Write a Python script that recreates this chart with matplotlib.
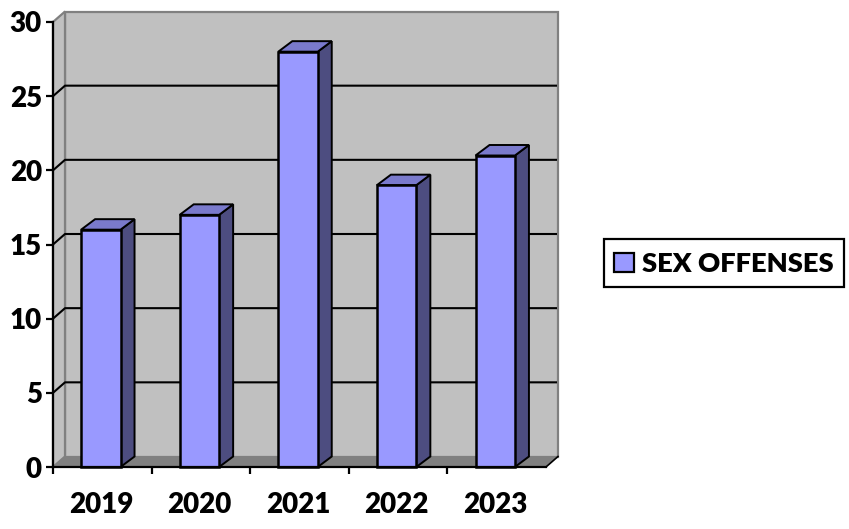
# plot.py - 3d looking column chart of sex offenses per year
import matplotlib
matplotlib.use('Agg')
import matplotlib.pyplot as plt
from matplotlib.patches import Patch, Polygon, Rectangle

years = ['2019', '2020', '2021', '2022', '2023']
offenses = [16, 17, 28, 19, 21]
y_ticks = [0, 5, 10, 15, 20, 25, 30]
series_name = 'SEX OFFENSES'

plt.rcParams['font.family'] = ['Lato', 'DejaVu Sans']
plt.rcParams['font.weight'] = 'heavy'

W, H = 849, 529
fig = plt.figure(figsize=(W / 100, H / 100), dpi=100)
# front plane of the chart, in pixels: x 53-546, y 22-467
ax = fig.add_axes([53 / W, 1 - 467 / H, 493 / W, 445 / H])
ax.set_xlim(-0.5, 4.5)
ax.set_ylim(0, 30)

# depth of the fake 3d, in data units
dx = 12 / (493 / 5)
dy = 10.5 / (445 / 30)
bar_dx = 14 / (493 / 5)
x0, x1 = -0.5, 4.5
bar_w = 0.4
bar_shift = -0.015

FRONT = '#9999FF'
SIDE = '#4D4D80'
TOP = '#7A7ACC'
WALL = '#C0C0C0'
FLOOR = '#808080'


def poly(pts, fc, ec, lw, z):
    ax.add_patch(Polygon(pts, closed=True, facecolor=fc, edgecolor=ec, linewidth=lw,
                         zorder=z, clip_on=False, joinstyle='miter'))


# walls and floor
poly([(x0 + dx, dy), (x1 + dx, dy), (x1 + dx, 30 + dy), (x0 + dx, 30 + dy)], WALL, FLOOR, 1.6, 1)
poly([(x0, 0), (x0 + dx, dy), (x0 + dx, 30 + dy), (x0, 30)], WALL, FLOOR, 1.6, 1)
poly([(x0, 0), (x1, 0), (x1 + dx, dy), (x0 + dx, dy)], FLOOR, 'none', 1.0, 2)
ax.plot([x1, x1 + dx], [0, dy], color='black', lw=1.2, zorder=3, clip_on=False)

# gridlines on left and back wall
for v in y_ticks[1:-1]:
    ax.plot([x0, x0 + dx, x1 + dx - 0.01], [v, v + dy, v + dy], color='black', lw=1.5,
            zorder=3, clip_on=False, solid_capstyle='butt')

# columns
for i, v in enumerate(offenses):
    left = i - bar_w / 2 + bar_shift
    right = i + bar_w / 2 + bar_shift
    poly([(right, 0), (right + bar_dx, dy), (right + bar_dx, v + dy), (right, v)], SIDE, 'black', 1.4, 4)
    poly([(left, v), (right, v), (right + bar_dx, v + dy), (left + bar_dx, v + dy)], TOP, 'black', 1.4, 4)
    poly([(left, 0), (right, 0), (right, v), (left, v)], FRONT, 'black', 1.8, 5)

# axes
for s in ['top', 'right']:
    ax.spines[s].set_visible(False)
for s in ['left', 'bottom']:
    ax.spines[s].set_linewidth(1.6)
    ax.spines[s].set_zorder(6)
ax.patch.set_visible(False)
ax.set_yticks(y_ticks)
# no tick at the right end of the floor
ax.set_xticks([i - 0.5 for i in range(5)])
ax.set_xticklabels([])
ax.set_xticks([i + bar_shift for i in range(5)], labels=years, minor=True)
ax.tick_params(axis='x', which='major', length=5, width=1.6)
ax.tick_params(axis='x', which='minor', length=0, pad=18, labelsize=20)
ax.tick_params(axis='y', length=5, width=1.6, pad=3, labelsize=20)

# legend box 604-844 x, 239-287 y, drawn apart since the legend frame hugs the text
fig.add_artist(Rectangle((604 / W, 1 - 287 / H), 240 / W, 48 / H, transform=fig.transFigure,
                         facecolor='white', edgecolor='black', linewidth=1.6))
handle = Patch(facecolor=FRONT, edgecolor='black', linewidth=1.6, label=series_name)
leg = fig.legend(handles=[handle], loc='center left', bbox_to_anchor=(604 / W, 1 - 264 / H),
                 prop={'size': 19.7, 'weight': 'heavy'}, frameon=False,
                 handlelength=0.72, handleheight=0.72, handletextpad=0.32,
                 borderpad=0.36, borderaxespad=0)

fig.savefig('out.png', dpi=100)
